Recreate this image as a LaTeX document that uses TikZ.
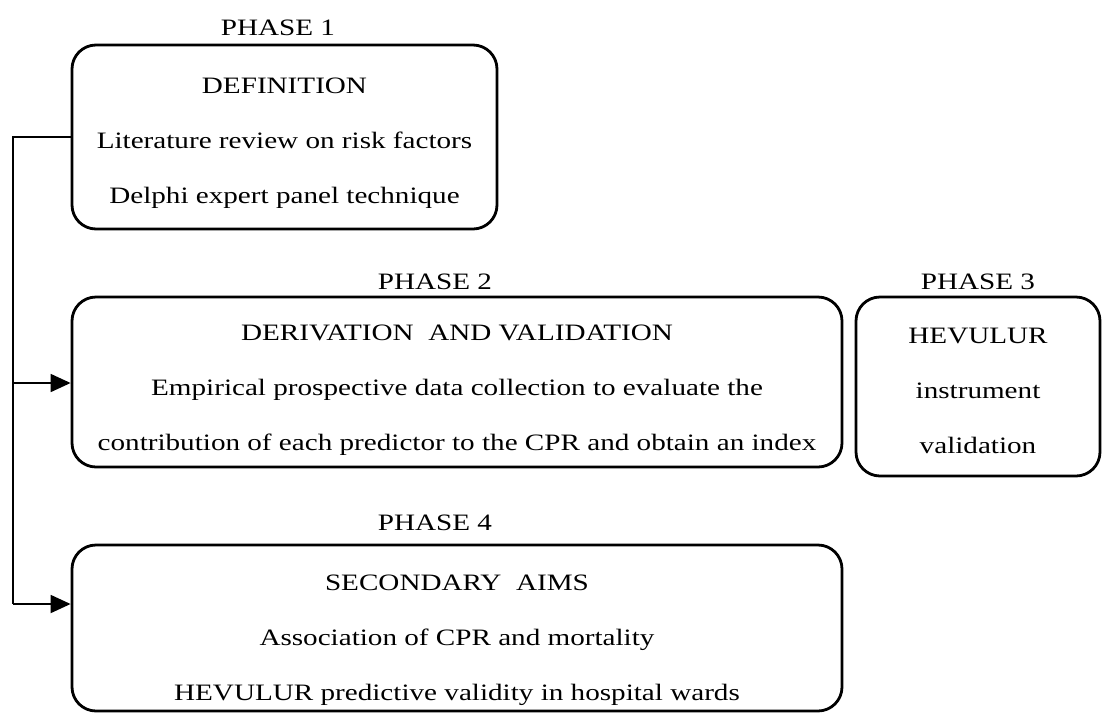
\documentclass[tikz,border=0pt]{standalone}
\usepackage{fontspec}
\setmainfont{Liberation Serif}[FakeStretch=1.24]
\usetikzlibrary{arrows.meta}
\begin{document}
\begin{tikzpicture}[x=1pt,y=1pt,
  phasebox/.style={draw=black, line width=2.8pt, rounded corners=24pt, inner sep=0pt, anchor=center},
  boxtext/.style={align=center, font=\fontsize{23.5}{55}\selectfont, inner sep=0pt, anchor=center},
  phaselabel/.style={font=\fontsize{23.5}{25}\selectfont, inner sep=0pt, anchor=base},
  link/.style={line width=1.8pt, draw=black},
  tip/.style={-{Triangle[length=20pt,width=18pt]}}]
\useasboundingbox (0,0) rectangle (1105,-713);
% boxes
\node[phasebox, minimum width=425pt, minimum height=184pt] (b1) at (284.5,-137) {};
\node[phasebox, minimum width=770pt, minimum height=170pt] (b2) at (457,-382) {};
\node[phasebox, minimum width=244pt, minimum height=179pt] (b3) at (978,-386.5) {};
\node[phasebox, minimum width=770pt, minimum height=166pt] (b4) at (457,-628) {};
% box texts
\node[boxtext] (t1) at (284.5,-143)
  {DEFINITION\\ Literature review on risk factors\\ Delphi expert panel technique};
\node[boxtext] (t2) at (457,-390)
  {DERIVATION\ \ AND VALIDATION\\ Empirical prospective data collection to evaluate the\\ contribution of each predictor to the CPR and obtain an index};
\node[boxtext] (t3) at (978,-391)
  {HEVULUR\\ instrument\\ validation};
\node[boxtext] (t4) at (457,-640)
  {SECONDARY\ \ AIMS\\ Association of CPR and mortality\\ HEVULUR predictive validity in hospital wards};
% phase labels
\node[phaselabel] (p1) at (278,-35) {PHASE 1};
\node[phaselabel] (p2) at (435,-289) {PHASE 2};
\node[phaselabel] (p3) at (978,-289) {PHASE 3};
\node[phaselabel] (p4) at (435,-530) {PHASE 4};
% connectors
\coordinate (top) at (13,-137);
\coordinate (mid) at (13,-383);
\coordinate (bot) at (13,-604);
\draw[link] (b1.west) -- (top) -- (bot);
\draw[link, tip] (mid) -- (mid -| b2.west);
\draw[link, tip] (bot) -- (bot -| b4.west);
\end{tikzpicture}
\end{document}
